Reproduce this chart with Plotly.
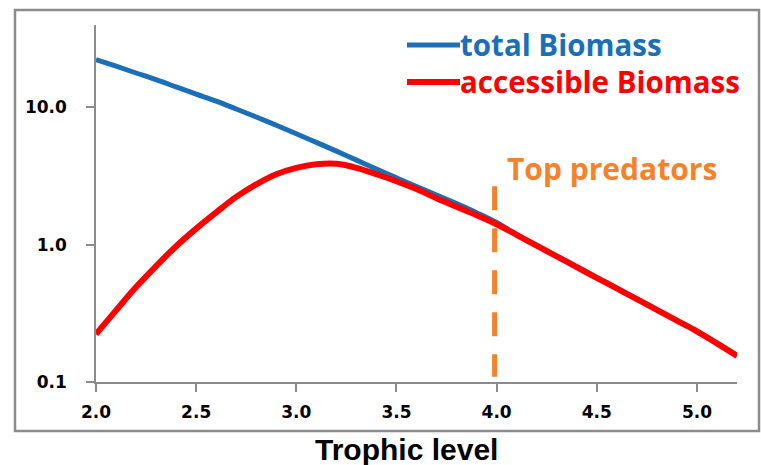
import plotly.graph_objects as go

trophic_level = [2.0, 2.1, 2.2, 2.3, 2.4, 2.5, 2.6, 2.7, 2.8, 2.9, 3.0, 3.1, 3.2, 3.3,
                 3.4, 3.5, 3.6, 3.7, 3.8, 3.9, 4.0, 4.1, 4.2, 4.3, 4.4, 4.5, 4.6, 4.7,
                 4.8, 4.9, 5.0, 5.1, 5.2]
total_biomass = [22.3, 19.95, 17.8, 15.9, 14.1, 12.5, 11.1, 9.73, 8.51, 7.41, 6.43, 5.56,
                 4.80, 4.13, 3.56, 3.07, 2.65, 2.30, 1.99, 1.71, 1.45, 1.18, 0.984, 0.822,
                 0.687, 0.574, 0.480, 0.402, 0.335, 0.280, 0.234, 0.191, 0.155]
accessible_biomass = [0.223, 0.332, 0.491, 0.698, 0.975, 1.31, 1.72, 2.23, 2.75, 3.26, 3.63,
                      3.85, 3.88, 3.63, 3.26, 2.90, 2.54, 2.18, 1.89, 1.64, 1.41, 1.18,
                      0.984, 0.822, 0.687, 0.574, 0.480, 0.402, 0.335, 0.280, 0.234, 0.191,
                      0.155]
predator_x = [3.99, 3.99]
predator_y = [2.67, 0.109]
x_ticks = [2.0, 2.5, 3.0, 3.5, 4.0, 4.5, 5.0]
x_tick_text = ["2.0", "2.5", "3.0", "3.5", "4.0", "4.5", "5.0"]
y_ticks = [0.1, 1, 10]
y_tick_text = ["0.1", "1.0", "10.0"]

BLUE = "#1B6FB8"
RED = "#FF0000"
ORANGE = "#F5822A"

fig = go.Figure()
fig.add_trace(go.Scatter(x=trophic_level, y=total_biomass, mode="lines", name="total Biomass",
                         line=dict(color=BLUE, width=5, shape="spline")))
fig.add_trace(go.Scatter(x=trophic_level, y=accessible_biomass, mode="lines",
                         name="accessible Biomass",
                         line=dict(color=RED, width=6, shape="spline")))
fig.add_trace(go.Scatter(x=predator_x, y=predator_y, mode="lines", name="Top predators",
                         line=dict(color=ORANGE, width=5, dash="24px,18px")))

W, H = 761, 465
L, R, T, B = 96, 24, 25, 83
pw, ph = W - L - R, H - T - B

def px(xp):
    return (xp - L) / pw

def py(yp):
    return (H - B - yp) / ph

shapes = [
    dict(type="rect", xref="paper", yref="paper", x0=px(15), x1=px(759), y0=py(431), y1=py(10),
         line=dict(color="#8C8C8C", width=2.5), layer="below"),
    dict(type="line", xref="paper", yref="paper", x0=px(407), x1=px(460), y0=py(45), y1=py(45),
         line=dict(color=BLUE, width=5)),
    dict(type="line", xref="paper", yref="paper", x0=px(407), x1=px(460), y0=py(82), y1=py(82),
         line=dict(color=RED, width=6)),
]

legend_font = "Open Sans"
annotations = [
    dict(xref="paper", yref="paper", x=px(458), y=py(44), xanchor="left", yanchor="middle",
         text="<b>total Biomass</b>", showarrow=False,
         font=dict(family=legend_font, size=29.5, color=BLUE)),
    dict(xref="paper", yref="paper", x=px(458), y=py(81), xanchor="left", yanchor="middle",
         text="<b>accessible Biomass</b>", showarrow=False,
         font=dict(family=legend_font, size=29.5, color=RED)),
    dict(xref="paper", yref="paper", x=px(505), y=py(168), xanchor="left", yanchor="middle",
         text="<b>Top predators</b>", showarrow=False,
         font=dict(family=legend_font, size=30, color=ORANGE)),
    dict(xref="paper", yref="paper", x=px(406), y=py(449), xanchor="center", yanchor="middle",
         text="<b>Trophic level</b>", showarrow=False,
         font=dict(family="Liberation Sans", size=30, color="black")),
]

axis_common = dict(showline=True, linecolor="#8C8C8C", linewidth=1.5, showgrid=False,
                   zeroline=False, ticks="outside", ticklen=8, tickcolor="#8C8C8C",
                   tickwidth=1.5,
                   tickfont=dict(family="DejaVu Sans", size=17, color="black", weight="bold"))

fig.update_layout(
    width=W, height=H,
    margin=dict(l=L, r=R, t=T, b=B),
    paper_bgcolor="white", plot_bgcolor="white",
    showlegend=False,
    shapes=shapes, annotations=annotations,
    xaxis=dict(range=[2.0, 5.2], tickvals=x_ticks, ticktext=x_tick_text,
               ticklabelstandoff=6, **axis_common),
    yaxis=dict(type="log", range=[-1, 1.6], tickvals=y_ticks, ticktext=y_tick_text,
               ticklabelstandoff=16, **axis_common),
)

fig.write_html("out.html")
